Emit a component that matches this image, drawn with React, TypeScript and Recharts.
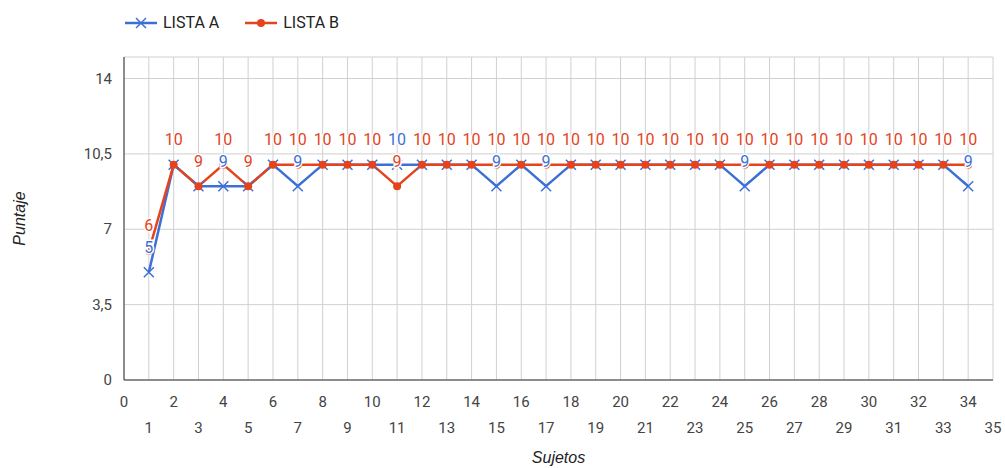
import React from 'react';
import { LineChart, Line, XAxis, YAxis, CartesianGrid, LabelList } from 'recharts';

const subjects = [1, 2, 3, 4, 5, 6, 7, 8, 9, 10, 11, 12, 13, 14, 15, 16, 17, 18, 19, 20, 21, 22, 23, 24, 25, 26, 27, 28, 29, 30, 31, 32, 33, 34];
const listaA = [5, 10, 9, 9, 9, 10, 9, 10, 10, 10, 10, 10, 10, 10, 9, 10, 9, 10, 10, 10, 10, 10, 10, 10, 9, 10, 10, 10, 10, 10, 10, 10, 10, 9];
const listaB = [6, 10, 9, 10, 9, 10, 10, 10, 10, 10, 9, 10, 10, 10, 10, 10, 10, 10, 10, 10, 10, 10, 10, 10, 10, 10, 10, 10, 10, 10, 10, 10, 10, 10];
const seriesNames = ['LISTA A', 'LISTA B'];
const xTicks = [0, 1, 2, 3, 4, 5, 6, 7, 8, 9, 10, 11, 12, 13, 14, 15, 16, 17, 18, 19, 20, 21, 22, 23, 24, 25, 26, 27, 28, 29, 30, 31, 32, 33, 34, 35];
const yTicks = [0, 3.5, 7, 10.5, 14];

const BLUE = '#3d70d6';
const RED = '#e5431c';
const FONT = 'Roboto, Arial, sans-serif';
const TITLE_FONT = '"Liberation Sans", Arial, sans-serif';

const data = subjects.map((s, i) => ({ sujeto: s, a: listaA[i], b: listaB[i] }));

// even ticks on the first row, odd ones dropped to a second row
const XTick = ({ x, y, payload }: any) => {
  const odd = payload.value % 2 === 1;
  return (
    <text x={x} y={y + (odd ? 40 : 14)} textAnchor="middle" dominantBaseline="central"
      fontSize={15} fill="#444" fontFamily={FONT}>
      {payload.value}
    </text>
  );
};

const YTick = ({ x, y, payload }: any) => (
  <text x={x - 4} y={y} textAnchor="end" dominantBaseline="central" fontSize={15} fill="#444" fontFamily={FONT}>
    {String(payload.value).replace('.', ',')}
  </text>
);

const CrossDot = ({ cx, cy, index }: any) => (
  <g key={`x-${index}`}>
    <line x1={cx - 5} y1={cy - 5} x2={cx + 5} y2={cy + 5} stroke={BLUE} strokeWidth={1.5} />
    <line x1={cx - 5} y1={cy + 5} x2={cx + 5} y2={cy - 5} stroke={BLUE} strokeWidth={1.5} />
  </g>
);

const valueLabel = (color: string, show: (i: number) => boolean) => (p: any) => {
  if (!show(p.index)) return null;
  return (
    <text x={p.x} y={p.y - 25} textAnchor="middle" dominantBaseline="central" fontSize={16}
      fill={color} stroke="#fff" strokeWidth={3} paintOrder="stroke" fontFamily={FONT}>
      {p.value}
    </text>
  );
};

const LegendKey = ({ color, name, marker }: { color: string; name: string; marker: 'x' | 'dot' }) => (
  <div style={{ display: 'flex', alignItems: 'center', marginRight: 26 }}>
    <svg width={32} height={12} style={{ marginRight: 6 }}>
      <line x1={0} y1={6} x2={32} y2={6} stroke={color} strokeWidth={2.5} />
      {marker === 'x' ? (
        <g stroke={color} strokeWidth={1.5}>
          <line x1={11} y1={1} x2={21} y2={11} />
          <line x1={11} y1={11} x2={21} y2={1} />
        </g>
      ) : (
        <circle cx={16} cy={6} r={4} fill={color} />
      )}
    </svg>
    <span style={{ fontSize: 16, color: '#222', fontFamily: FONT }}>{name}</span>
  </div>
);

export default function App() {
  return (
    <div style={{ position: 'absolute', left: 0, top: 0, width: 1005, height: 468, background: '#fff' }}>
      <div style={{ position: 'absolute', left: 125, top: 13, display: 'flex' }}>
        <LegendKey color={BLUE} name={seriesNames[0]} marker="x" />
        <LegendKey color={RED} name={seriesNames[1]} marker="dot" />
      </div>
      <LineChart width={1005} height={468} data={data} margin={{ top: 57, right: 12, bottom: 28, left: 0 }}>
        <CartesianGrid stroke="#d0d0d0" />
        <XAxis
          dataKey="sujeto"
          type="number"
          domain={[0, 35]}
          ticks={xTicks}
          interval={0}
          height={60}
          tick={<XTick />}
          tickLine={false}
          axisLine={{ stroke: '#333', strokeWidth: 1 }}
          label={{
            content: ({ viewBox }: any) => (
              <text x={viewBox.x + viewBox.width / 2} y={viewBox.y + 77} textAnchor="middle"
                dominantBaseline="central" fontSize={16} fontStyle="italic" fill="#222" fontFamily={TITLE_FONT}>
                Sujetos
              </text>
            ),
          }}
        />
        <YAxis
          type="number"
          domain={[0, 15]}
          ticks={yTicks}
          width={124}
          tick={<YTick />}
          tickLine={false}
          axisLine={{ stroke: '#333', strokeWidth: 1 }}
          label={{
            content: ({ viewBox }: any) => {
              const cx = viewBox.x + 19;
              const cy = viewBox.y + viewBox.height / 2;
              return (
                <text x={cx} y={cy} textAnchor="middle" dominantBaseline="central"
                  transform={`rotate(-90 ${cx} ${cy})`} fontSize={16} fontStyle="italic" fill="#222" fontFamily={TITLE_FONT}>
                  Puntaje
                </text>
              );
            },
          }}
        />
        <Line type="linear" dataKey="a" name={seriesNames[0]} stroke={BLUE} strokeWidth={2.5}
          dot={<CrossDot />} activeDot={false} isAnimationActive={false}>
          <LabelList dataKey="a" content={valueLabel(BLUE, (i) => listaA[i] !== listaB[i])} />
        </Line>
        <Line type="linear" dataKey="b" name={seriesNames[1]} stroke={RED} strokeWidth={2.5}
          dot={{ r: 4, fill: RED, stroke: RED, strokeWidth: 0 }} activeDot={false} isAnimationActive={false}>
          <LabelList dataKey="b" content={valueLabel(RED, () => true)} />
        </Line>
      </LineChart>
    </div>
  );
}
